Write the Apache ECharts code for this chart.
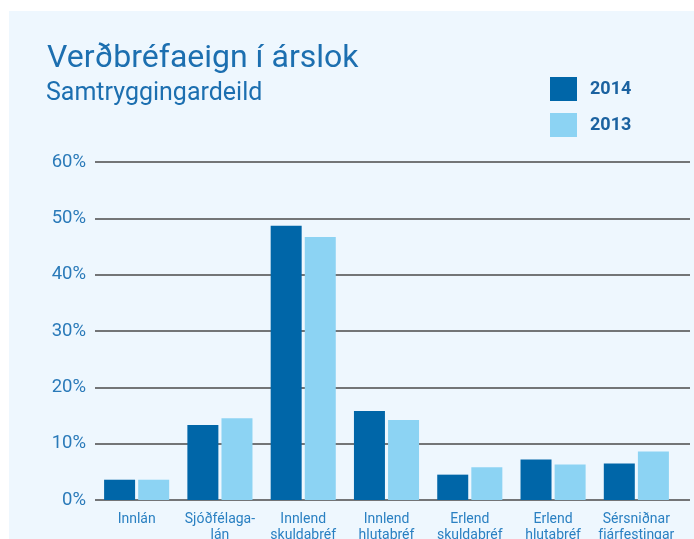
<!DOCTYPE html>
<html>
<head>
<meta charset="utf-8">
<script src="https://cdn.jsdelivr.net/npm/echarts@6/dist/echarts.min.js"></script>
<style>
  html, body { margin: 0; padding: 0; background: #fff; }
  #chart { width: 694px; height: 539px; }
</style>
</head>
<body>
<div id="chart"></div>
<script>
// gögn
var categories = ["Innlán", "Sjóðfélaga-\nlán", "Innlend\nskuldabréf", "Innlend\nhlutabréf", "Erlend\nskuldabréf", "Erlend\nhlutabréf", "Sérsniðnar\nfjárfestingar"];
var values2014 = [3.6, 13.3, 48.7, 15.8, 4.5, 7.2, 6.5];
var values2013 = [3.6, 14.5, 46.7, 14.2, 5.8, 6.3, 8.6];
var yTicks = [0, 10, 20, 30, 40, 50, 60];

var font = "'Roboto', sans-serif";
var blue = "#1c6fb0";

var chart = echarts.init(document.getElementById("chart"));

var option = {
  animation: false,
  graphic: [
    {
      type: "rect",
      z: -10,
      shape: { x: 9, y: 11, width: 685, height: 528 },
      style: { fill: "#eef7fe" }
    }
  ],
  title: [
    {
      text: "Verðbréfaeign í árslok",
      left: 42,
      top: 38,
      textStyle: { color: blue, fontSize: 32, fontWeight: "normal", fontFamily: font }
    },
    {
      text: "Samtryggingardeild",
      left: 41,
      top: 76,
      textStyle: { color: blue, fontSize: 25, fontWeight: "normal", fontFamily: font }
    }
  ],
  legend: {
    orient: "vertical",
    left: 550,
    top: 77,
    padding: 0,
    itemWidth: 27,
    itemHeight: 24,
    itemGap: 12,
    icon: "rect",
    data: ["2014", "2013"],
    textStyle: { color: "#1b62a0", fontSize: 18, fontWeight: "bold", fontFamily: font, padding: [0, 0, 0, 8] }
  },
  grid: [
    // only for the horizontal lines, they run a bit further right
    { left: 95, right: 4, top: 162, bottom: 39, outerBoundsMode: "none" },
    { left: 95, right: 16, top: 162, bottom: 39, outerBoundsMode: "none" }
  ],
  xAxis: [
    { type: "category", gridIndex: 0, show: false, data: categories },
    {
      type: "category",
      gridIndex: 1,
      data: categories,
      axisLine: { show: false },
      axisTick: { show: false },
      axisLabel: {
        interval: 0,
        margin: 11,
        lineHeight: 16,
        color: "#2a80c2",
        fontSize: 14,
        fontFamily: font
      }
    }
  ],
  yAxis: [
    {
      type: "value",
      gridIndex: 0,
      min: 0,
      max: 60,
      interval: 10,
      axisLine: { show: false },
      axisTick: { show: false },
      axisLabel: {
        margin: 9,
        color: "#2a7ab9",
        fontSize: 18.5,
        fontFamily: font,
        formatter: function (v) { return yTicks.indexOf(v) >= 0 ? v + "%" : ""; }
      },
      splitLine: { lineStyle: { color: "#4a4a4a", width: 1.5 } }
    },
    {
      type: "value",
      gridIndex: 1,
      min: 0,
      max: 60,
      interval: 10,
      show: false,
      splitLine: { show: false }
    }
  ],
  series: [
    {
      name: "2014",
      type: "bar",
      xAxisIndex: 1,
      yAxisIndex: 1,
      data: values2014,
      barWidth: 31,
      barGap: "10%",
      itemStyle: { color: "#0066a8" }
    },
    {
      name: "2013",
      type: "bar",
      xAxisIndex: 1,
      yAxisIndex: 1,
      data: values2013,
      barWidth: 31,
      barGap: "10%",
      itemStyle: { color: "#8cd3f3" }
    }
  ]
};

chart.setOption(option);
</script>
</body>
</html>
